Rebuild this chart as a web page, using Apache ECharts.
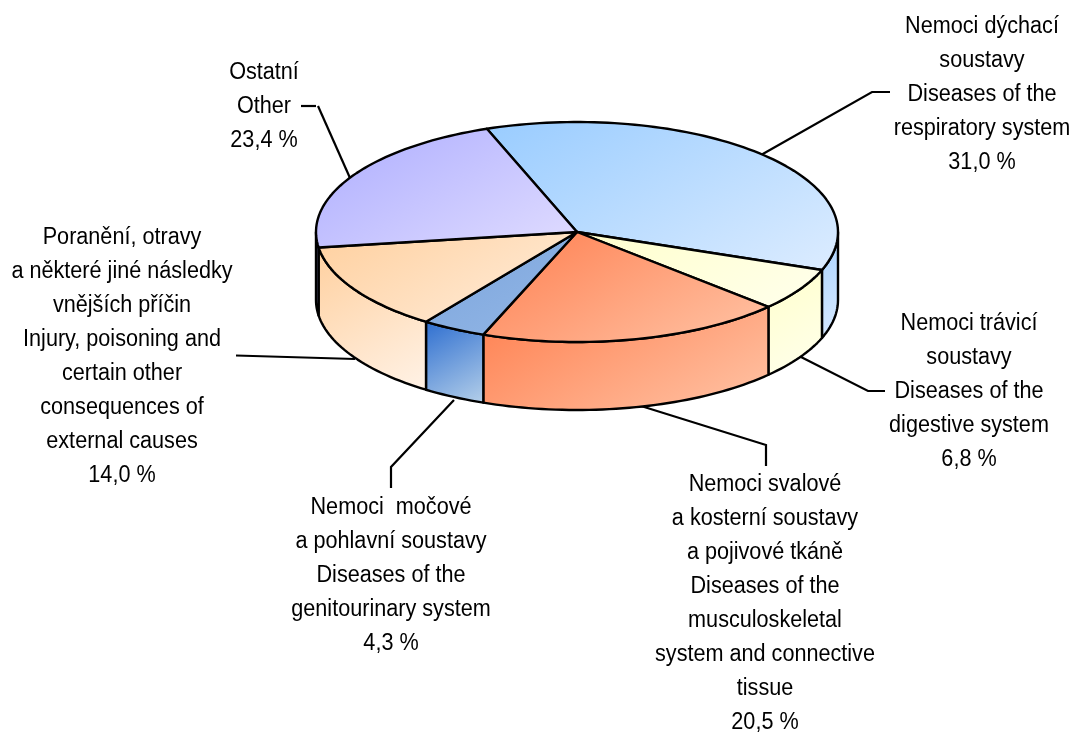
<!DOCTYPE html>
<html><head><meta charset="utf-8">
<style>html,body{margin:0;padding:0;background:#fff}#c{width:1075px;height:733px}</style>
<script src="https://cdn.jsdelivr.net/npm/echarts@6/dist/echarts.min.js"></script>
</head><body><div id="c"></div>
<script>
// Data
const categories = [
  'Nemoci dýchací\nsoustavy\nDiseases of the\nrespiratory system',
  'Nemoci trávicí\nsoustavy\nDiseases of the\ndigestive system',
  'Nemoci svalové\na kosterní soustavy\na pojivové tkáně\nDiseases of the\nmusculoskeletal\nsystem and connective\ntissue',
  'Nemoci  močové\na pohlavní soustavy\nDiseases of the\ngenitourinary system',
  'Poranění, otravy\na některé jiné následky\nvnějších příčin\nInjury, poisoning and\ncertain other\nconsequences of\nexternal causes',
  'Ostatní\nOther'
];
const values = [31.0, 6.8, 20.5, 4.3, 14.0, 23.4];
const valueLabels = ['31,0 %', '6,8 %', '20,5 %', '4,3 %', '14,0 %', '23,4 %'];

// Styling / layout
const topColors = [['#99ccff','#dcecff'],['#ffffcc','#ffffec'],['#ff7f50','#ffc4a6'],['#7ba4dc','#93b7e6'],['#ffd09f','#ffeedd'],['#adadff','#e0dcff']];
const wallColors = [['#a8d2ff','#d8eaff'],['#ffffcc','#ffffec'],['#ff8050','#ffc4a6'],['#2f6fd0','#b4cfe9'],['#ffd09f','#fff2e6'],['#8888cc','#9c9ce0']];
const cx = 577, cy = 232, rx = 261, ry = 110, depth = 68, startDeg = -20.2;
// the drawing enlarges the first slice relative to its printed share
const sliceEmphasis = [1.264, 1, 1, 1, 1, 1];
const labelPos = [[982,27],[969,324],[765,485],[391,508],[122,238],[264,73]];
const leaderLines = [
  [[890,92],[872,92],[761,155]],
  [[885,391],[868,391],[801,357]],
  [[766,466],[766,445],[641,406]],
  [[391,488],[391,467],[454,400]],
  [[236,355.5],[355,359]],
  [[316,106],[301,106]],
  [[318,106],[350,178]]
];
const FONT = '"Liberation Sans", Arial, sans-serif';

const weights = values.map((v,i)=>v*sliceEmphasis[i]);
const total = weights.reduce((a,b)=>a+b,0);
let acc = startDeg;
const arcs = weights.map(w=>{const a=acc; acc+=w/total*360; return [a,acc];});
const pt = (deg,dy)=>{const r=deg*Math.PI/180; return [cx+rx*Math.sin(r), cy-ry*Math.cos(r)+(dy||0)];};
const arcPts = (a,b,dy)=>{const n=Math.max(2,Math.ceil(Math.abs(b-a)/1.5)); const o=[]; for(let i=0;i<=n;i++) o.push(pt(a+(b-a)*i/n,dy)); return o;};
function grad(c, pts){
  const xs=pts.map(p=>p[0]), ys=pts.map(p=>p[1]);
  const x0=Math.min(...xs), x1=Math.max(...xs), y0=Math.min(...ys), y1=Math.max(...ys);
  const dx=0.5, dy=0.866;
  const L=(x1-x0)*dx+(y1-y0)*dy, mx=(x0+x1)/2, my=(y0+y1)/2;
  return new echarts.graphic.LinearGradient(mx-dx*L/2,my-dy*L/2,mx+dx*L/2,my+dy*L/2,
    [{offset:0,color:c[0]},{offset:1,color:c[1]}], true);
}

function renderTop(params, api){
  const i = params.dataIndex; api.value(0);
  const [a,b] = arcs[i];
  const points = [[cx,cy]].concat(arcPts(a,b));
  return {type:'polygon', shape:{points},
    style:{fill:grad(topColors[i],points), stroke:'#000', lineWidth:2.4, lineJoin:'round'}};
}
function renderWall(params, api){
  const i = params.dataIndex; api.value(0);
  // visible front part of the rim only (90..270 deg clockwise from the back)
  const [a0,b0] = arcs[i];
  const a = Math.max(a0,90), b = Math.min(b0,270);
  if (b<=a) return null;
  const points = arcPts(a,b,0).concat(arcPts(b,a,depth));
  return {type:'polygon', shape:{points},
    style:{fill:grad(wallColors[i],points), stroke:'#000', lineWidth:2.4, lineJoin:'round'}};
}
const seriesData = values.map((v,i)=>({name:categories[i], value:v}));

const graphics = [];
leaderLines.forEach(p=>graphics.push({type:'polyline', silent:true, z:0, shape:{points:p}, style:{fill:null, stroke:'#000', lineWidth:2.2}}));
categories.forEach((c,i)=>{
  const lines = (c+'\n'+valueLabels[i]);
  graphics.push({type:'text', silent:true, z:5, x:labelPos[i][0], y:labelPos[i][1]-17, scaleX:0.94,
    style:{text:lines, font:'23px '+FONT, fill:'#000', align:'center', verticalAlign:'top', lineHeight:33.9}});
});

const chart = echarts.init(document.getElementById('c'), null, {renderer:'canvas'});
chart.setOption({
  animation:false,
  backgroundColor:'#fff',
  tooltip:{show:false},
  graphic:{elements:graphics},
  series:[
    {type:'custom', coordinateSystem:'none', z:2, silent:true, renderItem:renderWall, data:seriesData},
    {type:'custom', coordinateSystem:'none', z:3, silent:true, renderItem:renderTop, data:seriesData}
  ]
});
</script></body></html>
